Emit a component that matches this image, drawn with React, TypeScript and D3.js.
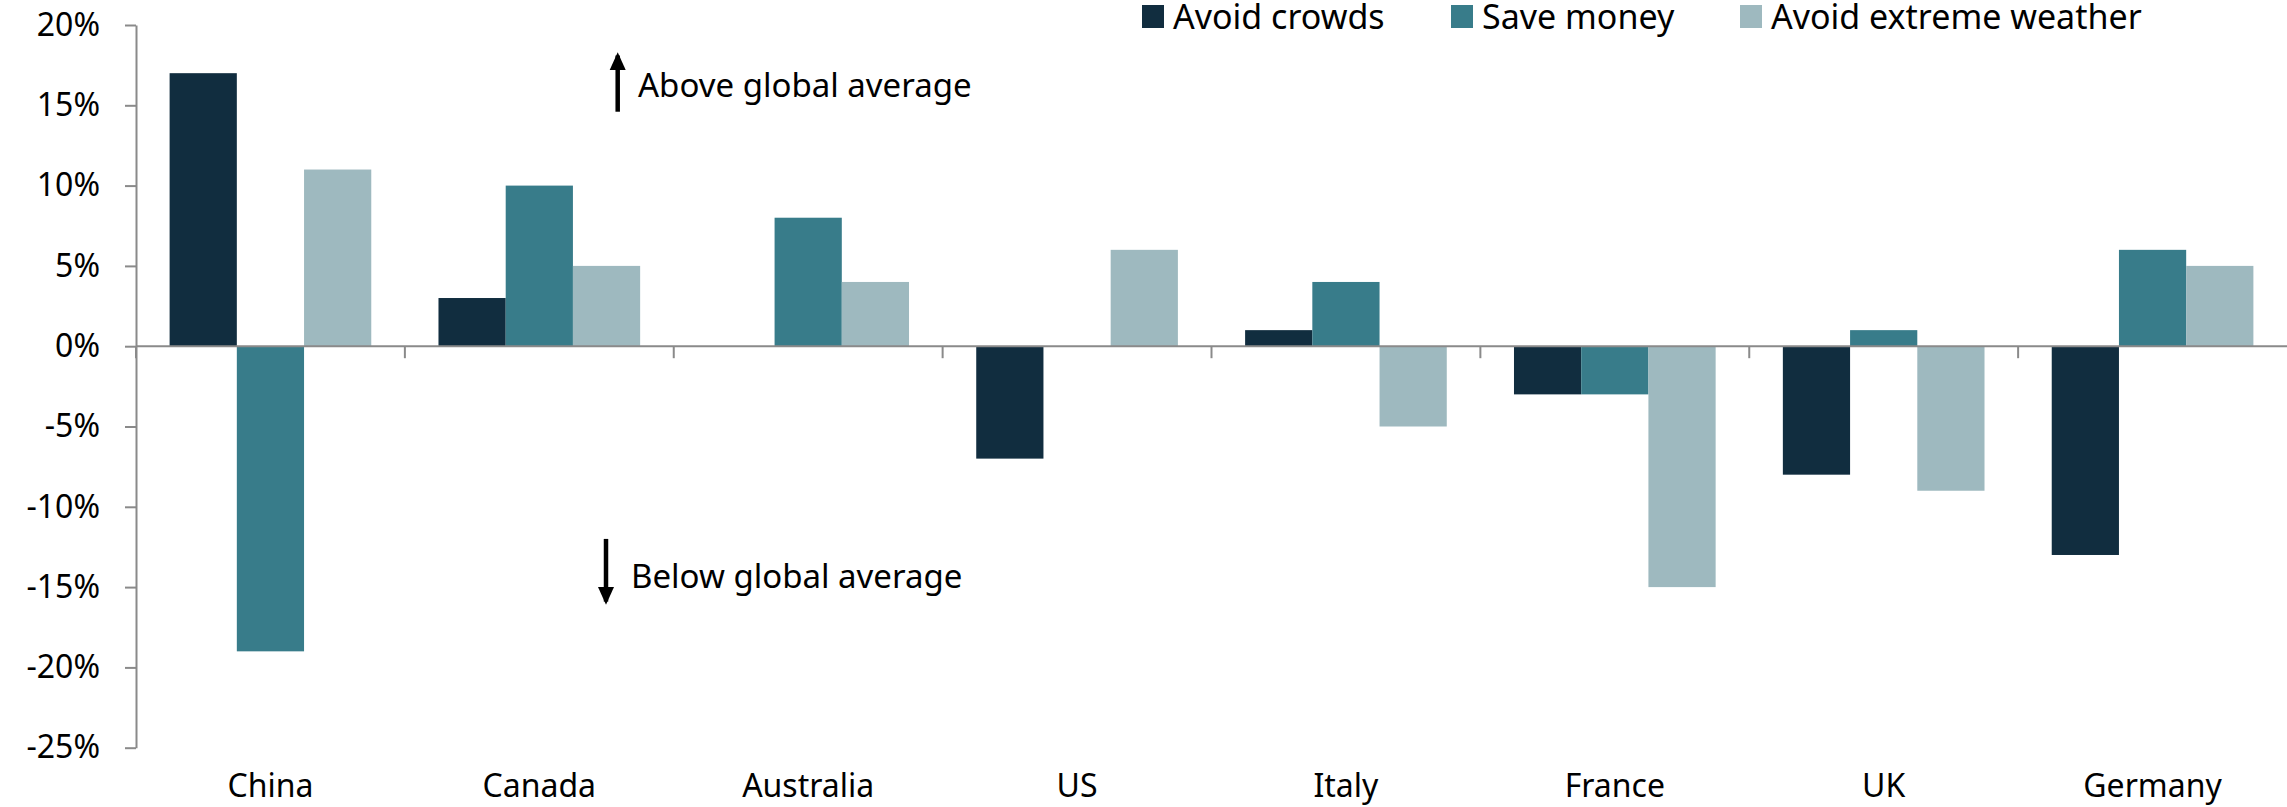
import * as d3 from "d3";
import { useRef, useEffect } from "react";

const countries = ["China", "Canada", "Australia", "US", "Italy", "France", "UK", "Germany"];
const seriesNames = ["Avoid crowds", "Save money", "Avoid extreme weather"];
const avoidCrowds = [17, 3, 0, -7, 1, -3, -8, -13];
const saveMoney = [-19, 10, 8, 0, 4, -3, 1, 6];
const avoidWeather = [11, 5, 4, 6, -5, -15, -9, 5];
const yTicks = [-25, -20, -15, -10, -5, 0, 5, 10, 15, 20];
const colors = ["#112d3f", "#387c8a", "#9eb9bf"];

export default function App() {
    const width = 2287;
    const height = 807;
    const marginTop = 25;
    const marginLeft = 136;
    const plotBottom = 747.7;
    const font = "'Noto Sans', 'Open Sans', sans-serif";
    const gy = useRef<SVGGElement>(null);

    const values = [avoidCrowds, saveMoney, avoidWeather];
    const x0 = d3.scaleBand(countries, [marginLeft, width]).padding(0);
    const bw = x0.bandwidth();
    const x1 = d3.scaleBand(seriesNames, [bw * 0.125, bw * 0.875]).padding(0);
    const y = d3.scaleLinear([-25, 20], [plotBottom, marginTop]);
    const y0 = y(0);

    useEffect(() => {
        if (gy.current) {
            const g = d3.select(gy.current);
            g.selectAll("*").remove();
            g.call(
                d3.axisLeft(y)
                    .tickValues(yTicks)
                    .tickFormat((d) => `${d}%`)
                    .tickSize(11)
                    .tickSizeOuter(0)
                    .tickPadding(25)
            );
            g.select(".domain").attr("stroke", "#8a8a8a").attr("stroke-width", 2);
            g.selectAll(".tick line").attr("stroke", "#8a8a8a").attr("stroke-width", 2);
            g.selectAll(".tick text")
                .attr("fill", "#000")
                .attr("font-size", 32)
                .attr("font-family", font);
        }
    }, [gy, y]);

    const legendX = [1142, 1451, 1740];

    return (
        <div style={{ position: "absolute", left: 0, top: 0 }}>
            <svg width={width} height={height} style={{ display: "block", background: "#fff" }}>
                <g>
                    {countries.map((c, i) => (
                        <g key={c} transform={`translate(${x0(c)},0)`}>
                            {seriesNames.map((s, j) => {
                                const v = values[j][i];
                                return (
                                    <rect
                                        key={s}
                                        x={x1(s)}
                                        y={Math.min(y(v), y0)}
                                        width={x1.bandwidth()}
                                        height={Math.abs(y(v) - y0)}
                                        fill={colors[j]}
                                    />
                                );
                            })}
                        </g>
                    ))}
                </g>
                <line x1={marginLeft} x2={width} y1={y0} y2={y0} stroke="#8a8a8a" strokeWidth={2} />
                {countries.map((c) => (
                    <line key={c} x1={x0(c)} x2={x0(c)} y1={y0} y2={y0 + 12} stroke="#8a8a8a" strokeWidth={2} />
                ))}
                <g ref={gy} transform={`translate(${marginLeft},0)`} />
                <g fontFamily={font} fontSize={32} fill="#000">
                    {countries.map((c) => (
                        <text key={c} x={x0(c)! + bw / 2} y={797} textAnchor="middle">{c}</text>
                    ))}
                </g>
                <g fontFamily={font} fontSize={33} fill="#000">
                    <line x1={617.7} x2={617.7} y1={y(18.1)} y2={y(14.6)} stroke="#000" strokeWidth={4.5} />
                    <path d={`M${617.7 - 8},${y(17.2)} L${617.7},${y(18.3)} L${617.7 + 8},${y(17.2)} Z`} fill="#000" />
                    <text x={638} y={y(16.3)} dominantBaseline="central">Above global average</text>
                    <line x1={606} x2={606} y1={y(-12)} y2={y(-15.9)} stroke="#000" strokeWidth={4.5} />
                    <path d={`M${606 - 8},${y(-15)} L${606},${y(-16.1)} L${606 + 8},${y(-15)} Z`} fill="#000" />
                    <text x={631} y={y(-14.3)} dominantBaseline="central">Below global average</text>
                </g>
                <g fontFamily={font} fontSize={34} fill="#000">
                    {seriesNames.map((s, j) => (
                        <g key={s}>
                            <rect x={legendX[j]} y={5} width={22} height={23} fill={colors[j]} />
                            <text x={legendX[j] + 31} y={29}>{s}</text>
                        </g>
                    ))}
                </g>
            </svg>
        </div>
    );
}
